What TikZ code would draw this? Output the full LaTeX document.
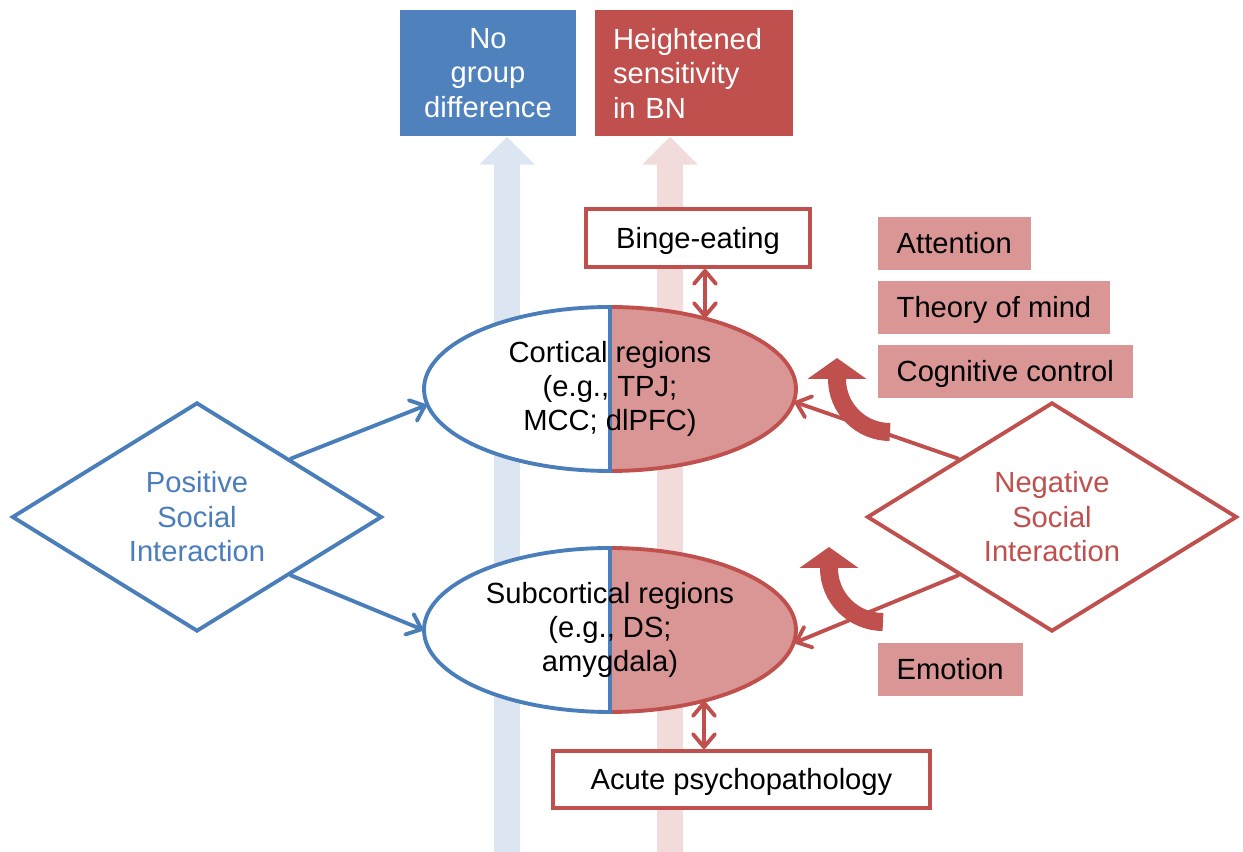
\documentclass[tikz,border=0pt]{standalone}
\usepackage{fontspec}
\setmainfont{Liberation Sans}
\usetikzlibrary{shapes.geometric, arrows.meta}
\definecolor{bnblue}{HTML}{4A7EBB}
\definecolor{boxblue}{HTML}{4F81BD}
\definecolor{bnred}{HTML}{C0504D}
\definecolor{bnpink}{HTML}{D99694}
\definecolor{paleblue}{HTML}{DCE6F2}
\definecolor{palered}{HTML}{F2DCDB}
\tikzset{
  every node/.style = {font=\fontsize{8.3}{9.8}\selectfont},
  outcome/.style = {rectangle, minimum height=12.6mm, inner sep=0, text=white},
  wide/.style    = {line width=2.6mm, -{Triangle[width=5.4mm, length=2.8mm]}},
  region/.style  = {ellipse, inner sep=0, minimum width=37.2mm, minimum height=16.6mm, align=center},
  clinic/.style  = {rectangle, draw=bnred, line width=1.1pt, fill=white, inner sep=0, text height=7pt, text depth=1.2pt},
  social/.style  = {diamond, aspect=1.6, inner sep=0, minimum width=37mm, minimum height=22.9mm, line width=1.1pt, fill=white, align=center},
  cue/.style     = {rectangle, fill=bnpink, inner xsep=1.9mm, inner ysep=0, minimum height=5.3mm, text height=7pt, text depth=1.2pt, anchor=north west},
  link/.style    = {line width=1.1pt, line cap=round, -{Straight Barb[length=1.3mm, width=2.2mm, round]}},
  both/.style    = {line width=1.1pt, {Straight Barb[length=1.3mm, width=2.2mm, round]}-{Straight Barb[length=1.3mm, width=2.2mm, round]}},
  turn/.style    = {bnred, line width=1.8mm, -{Triangle[width=5.8mm, length=2.1mm]}}
}

\begin{document}
\begin{tikzpicture}
  \useasboundingbox (0,0) rectangle (12.43,-8.52);
  \node[outcome, fill=boxblue, minimum width=17.6mm, align=center] (nodiff) at (4.88,-0.73) {No\\group\\difference};
  \node[outcome, fill=bnred, minimum width=19.8mm, text width=16.2mm, align=left] (bn) at (6.94,-0.73) {Heightened\\sensitivity\\in BN};
  \coordinate (hcfoot) at (5.07,-8.52); \coordinate (bnfoot) at (6.70,-8.52);
  \draw[wide, paleblue] (hcfoot) -- (hcfoot |- nodiff.south);
  \draw[wide, palered] (bnfoot) -- (bnfoot |- bn.south);

  \coordinate (cc) at (6.10,-3.89); \coordinate (sc) at (6.10,-6.30);
  \foreach \c in {cc, sc} {
    \draw[bnred, line width=1.1pt, fill=bnpink] ([yshift=8.2mm]\c) arc[start angle=90, end angle=-90, x radius=18.6mm, y radius=8.2mm] -- cycle;
    \draw[bnblue, line width=1.1pt, fill=white] ([yshift=8.2mm]\c) arc[start angle=90, end angle=270, x radius=18.6mm, y radius=8.2mm] -- cycle;
  }
  \node[region] (cort) at (cc) {Cortical regions\\(e.g., TPJ;\\MCC; dlPFC)};
  \node[region] (subc) at (sc) {Subcortical regions\\(e.g., DS;\\amygdala)};

  \node[clinic, minimum width=22.4mm, minimum height=5.8mm] (binge) at (6.98,-2.38) {Binge-eating};
  \node[clinic, minimum width=37.7mm, minimum height=5.7mm] (acute) at (7.415,-7.795) {Acute psychopathology};
  \coordinate (ct) at (7.05,-3.18); \coordinate (sb) at (7.04,-7.01);
  \draw[both, bnred] (binge.south -| ct) -- (ct);
  \draw[both, bnred] (sb) -- (acute.north -| sb);

  \node[social, draw=bnblue, text=bnblue] (pos) at (1.97,-5.17) {Positive\\Social\\Interaction};
  \node[social, draw=bnred, text=bnred] (neg) at (10.52,-5.17) {Negative\\Social\\Interaction};
  \draw[link, bnblue] (pos.north east) -- (cort.185);
  \draw[link, bnblue] (pos.south east) -- (subc.180);
  \draw[link, bnred] (neg.north west) -- (cort.-4);
  \draw[link, bnred] (neg.south west) -- (subc.-4);

  \node[cue] (att) at (8.77,-2.16) {Attention};
  \node[cue] (tom) at (8.77,-2.80) {Theory of mind};
  \node[cue] (cog) at (8.77,-3.44) {Cognitive control};
  \node[cue] (emo) at (8.77,-6.42) {Emotion};

  \coordinate (ctail) at (8.90,-4.32); \coordinate (stail) at (8.83,-6.22);
  \draw[turn] (ctail) arc[start angle=-90, end angle=-180, radius=5.3mm] -- ++(0,2.1mm);
  \draw[turn] (stail) arc[start angle=-90, end angle=-180, radius=5.4mm] -- ++(0,2.1mm);
\end{tikzpicture}
\end{document}
